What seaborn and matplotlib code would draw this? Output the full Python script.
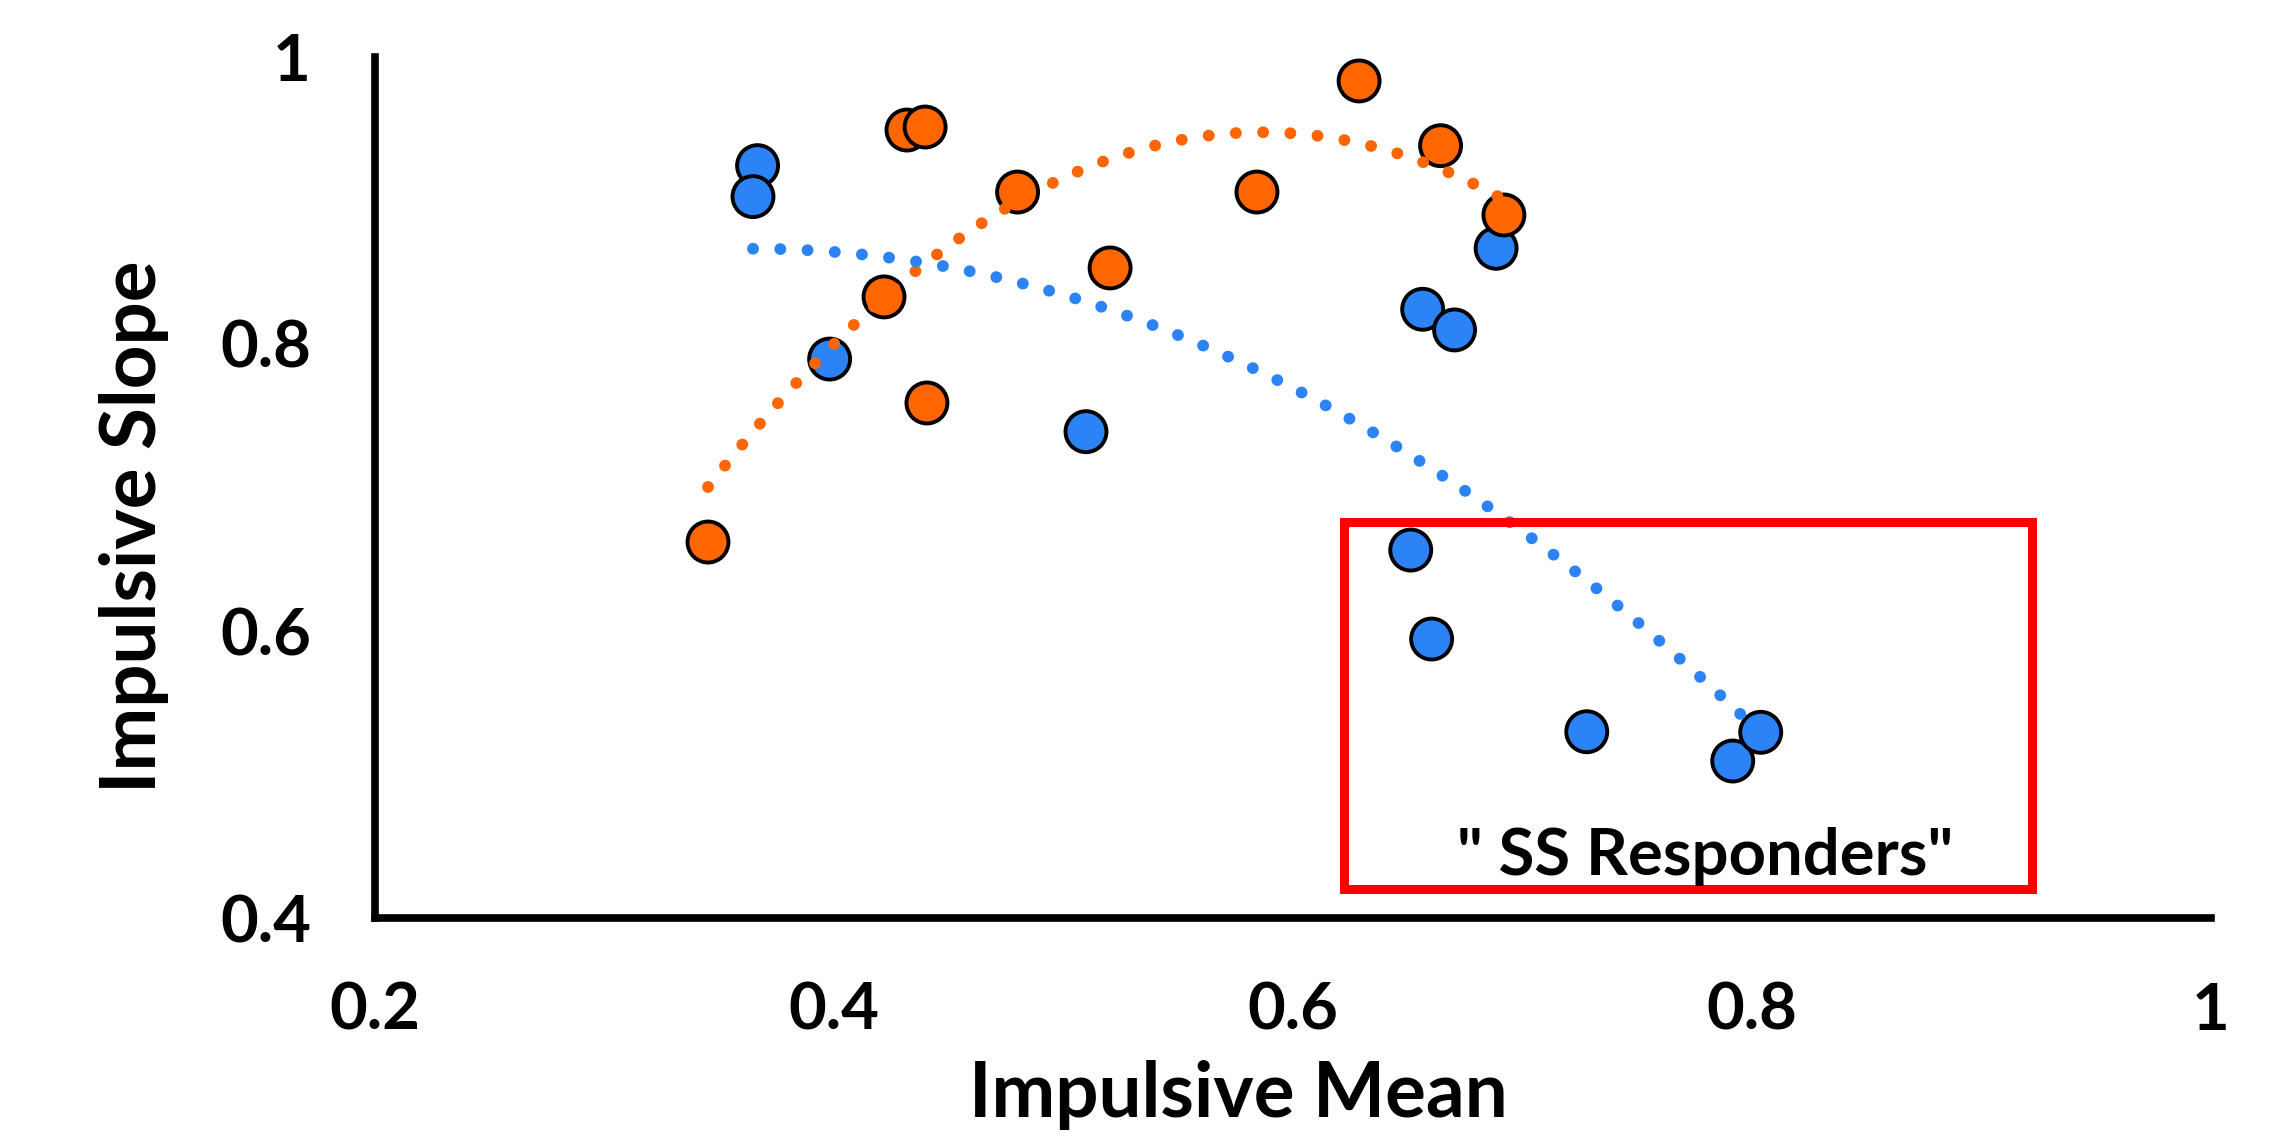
import numpy as np
import pandas as pd
import matplotlib
matplotlib.use('Agg')
import matplotlib.pyplot as plt
from matplotlib.patches import Rectangle
import seaborn as sns

# Values
blue_x = [0.3667, 0.3647, 0.3981, 0.5098, 0.6565, 0.6704, 0.6885, 0.6513, 0.6604, 0.7280, 0.7916, 0.8038]
blue_y = [0.9243, 0.9027, 0.7895, 0.7389, 0.8242, 0.8098, 0.8667, 0.6564, 0.5944, 0.5298, 0.5094, 0.5294]
orange_x = [0.3451, 0.4218, 0.4318, 0.4397, 0.4405, 0.4800, 0.5203, 0.5843, 0.6288, 0.6643, 0.6919]
orange_y = [0.6620, 0.8328, 0.9491, 0.9512, 0.7589, 0.9059, 0.8530, 0.9059, 0.9833, 0.9382, 0.8899]

x_ticks = [0.2, 0.4, 0.6, 0.8, 1.0]
x_tick_labels = ['0.2', '0.4', '0.6', '0.8', '1']
y_ticks = [0.4, 0.6, 0.8, 1.0]
y_tick_labels = ['0.4', '0.6', '0.8', '1']

# "SS Responders" box (x0, x1, y0, y1) and its label
box_x = [0.6222, 0.9220]
box_y = [0.4202, 0.6763]
box_label = '" SS Responders"'
box_label_pos = (0.7795, 0.430)

BLUE = '#2B83F6'
ORANGE = '#FF6600'

df = pd.DataFrame({
    'Impulsive Mean': blue_x + orange_x,
    'Impulsive Slope': blue_y + orange_y,
    'group': ['blue'] * len(blue_x) + ['orange'] * len(orange_x),
})

sns.set_style('white')
plt.rcParams['font.family'] = ['Lato', 'DejaVu Sans']
plt.rcParams['font.weight'] = 'bold'
for key in ['text.color', 'axes.labelcolor', 'xtick.color', 'ytick.color']:
    plt.rcParams[key] = 'black'

fig = plt.figure(figsize=(22.87, 11.37), dpi=100)
ax = fig.add_axes([0.16397, 0.19261, 0.80280, 0.75726])

# scatter points, orange drawn after blue
sns.scatterplot(data=df, x='Impulsive Mean', y='Impulsive Slope', hue='group',
                palette={'blue': BLUE, 'orange': ORANGE}, s=870,
                edgecolor='black', linewidth=2.8, legend=False, zorder=3, ax=ax)

# dotted 2nd order trend lines
for grp, color in [('orange', ORANGE), ('blue', BLUE)]:
    sub = df[df['group'] == grp]
    sns.regplot(data=sub, x='Impulsive Mean', y='Impulsive Slope', order=2, ci=None,
                scatter=False, truncate=True, color=color, ax=ax,
                line_kws=dict(lw=8.5, linestyle=(0, (0.01, 2.3)),
                              dash_capstyle='round', zorder=4))

# red box around the responders
ax.add_patch(Rectangle((box_x[0], box_y[0]), box_x[1] - box_x[0], box_y[1] - box_y[0],
                       fill=False, edgecolor='#FF0000', lw=6.5, zorder=5))
ax.text(box_label_pos[0], box_label_pos[1], box_label, ha='center', va='baseline',
        fontsize=47, fontweight='bold', color='black', zorder=6)

ax.set_xlim(0.2, 1.0)
ax.set_ylim(0.4, 1.0)
ax.set_xticks(x_ticks)
ax.set_xticklabels(x_tick_labels)
ax.set_yticks(y_ticks)
ax.set_yticklabels(y_tick_labels)

sns.despine(ax=ax)
for side in ['left', 'bottom']:
    ax.spines[side].set_linewidth(5.5)
    ax.spines[side].set_color('black')
ax.tick_params(axis='both', direction='out', length=15, width=5, colors='black',
               labelsize=47, pad=31)

ax.set_xlabel('Impulsive Mean', fontsize=55, fontweight='bold', color='black')
ax.set_ylabel('Impulsive Slope', fontsize=55, fontweight='bold', color='black')
ax.xaxis.set_label_coords(0.47, -0.165)
ax.yaxis.set_label_coords(-0.112, 0.454)

fig.savefig('out.png', dpi=100)
